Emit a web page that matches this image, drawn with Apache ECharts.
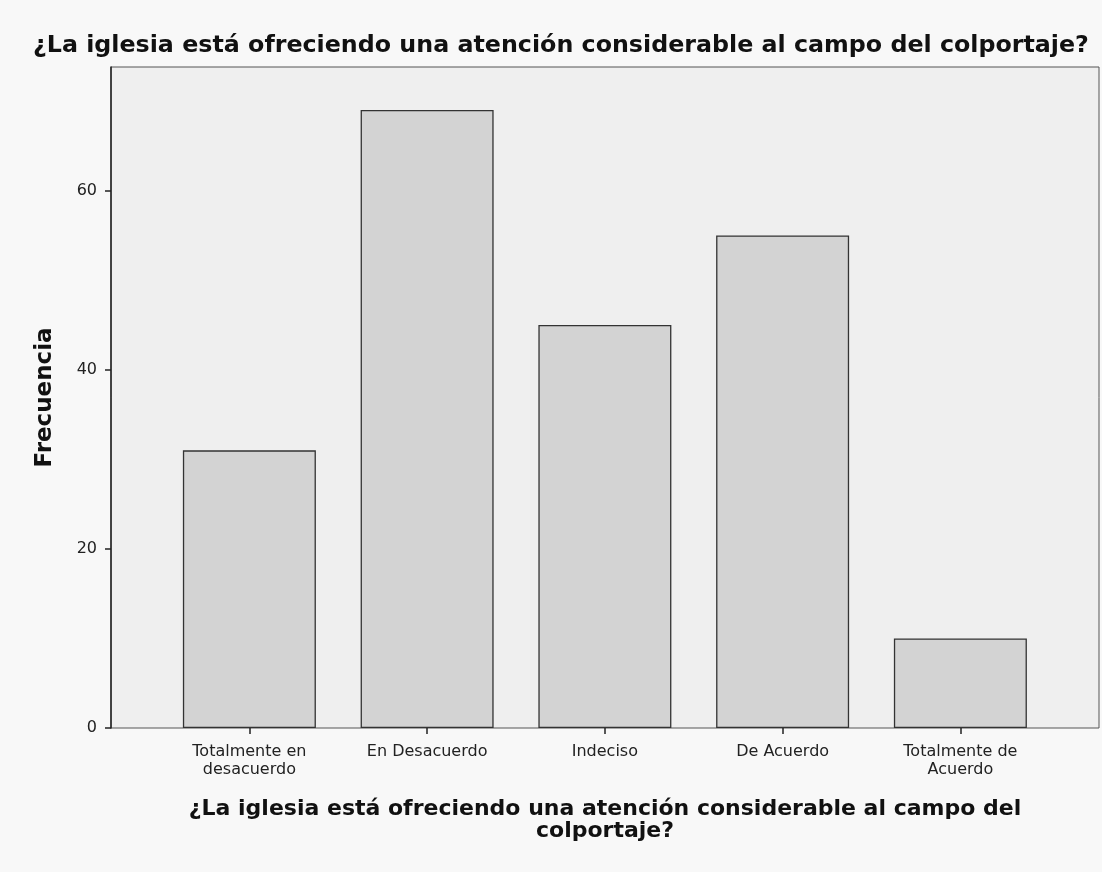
<!DOCTYPE html>
<html><head><meta charset="utf-8">
<script src="https://cdn.jsdelivr.net/npm/echarts@6/dist/echarts.min.js"></script>
<style>html,body{margin:0;padding:0;background:#f8f8f8}#c{width:1102px;height:872px}</style>
</head><body><div id="c"></div>
<script>
const categories = ['Totalmente en\ndesacuerdo', 'En Desacuerdo', 'Indeciso', 'De Acuerdo', 'Totalmente de\nAcuerdo'];
const frecuencia = [31, 69, 45, 55, 10];
const yTicks = [0, 20, 40, 60];
const titleText = '¿La iglesia está ofreciendo una atención considerable al campo del colportaje?';
const xName = '¿La iglesia está ofreciendo una atención considerable al campo del\ncolportaje?';
const yName = 'Frecuencia';

const FONT = '"DejaVu Sans", Verdana, sans-serif';
const chart = echarts.init(document.getElementById('c'));
const yMax = 73.8;
chart.setOption({
  backgroundColor: '#f8f8f8',
  animation: false,
  title: [
    {text: titleText, left: 33, top: 34, padding: 0, textStyle: {fontFamily: FONT, fontSize: 23.75, fontWeight: 'bold', color: '#111'}},
    {text: xName, left: 605, top: 798, padding: 0, textAlign: 'center', textStyle: {fontFamily: FONT, fontSize: 22, fontWeight: 'bold', color: '#111', lineHeight: 22, align: 'center'}}
  ],
  grid: [
    {left: 111, right: 3, top: 67, bottom: 144, show: true, backgroundColor: '#efefef', borderColor: '#555', borderWidth: 1},
    {left: 160.5, width: 888.75, top: 67, bottom: 144}
  ],
  xAxis: [
    {gridIndex: 0, type: 'value', min: 0, max: 1, show: false},
    {gridIndex: 1, type: 'category', data: categories, boundaryGap: true,
     axisLine: {show: false},
     axisTick: {show: true, alignWithLabel: true, length: 6, lineStyle: {color: '#222', width: 1.5}},
     axisLabel: {fontFamily: FONT, fontSize: 16, color: '#222', margin: 15, lineHeight: 18}}
  ],
  yAxis: [
    {gridIndex: 0, type: 'value', min: 0, max: yMax,
     name: yName, nameLocation: 'middle', nameGap: 54, nameRotate: 90,
     nameTextStyle: {fontFamily: FONT, fontSize: 23, fontWeight: 'bold', color: '#111'},
     axisLine: {show: true, lineStyle: {color: '#222', width: 1.5}},
     axisTick: {show: true, length: 6, customValues: yTicks, lineStyle: {color: '#222', width: 1.5}},
     splitLine: {show: false},
     axisLabel: {fontFamily: FONT, fontSize: 16, color: '#222', margin: 14, customValues: yTicks}},
    {gridIndex: 1, type: 'value', min: 0, max: yMax, show: false}
  ],
  series: [{
    type: 'bar', xAxisIndex: 1, yAxisIndex: 1, data: frecuencia, barWidth: 133,
    itemStyle: {color: '#d3d3d3', borderColor: '#333', borderWidth: 1.3}
  }]
});
</script></body></html>
